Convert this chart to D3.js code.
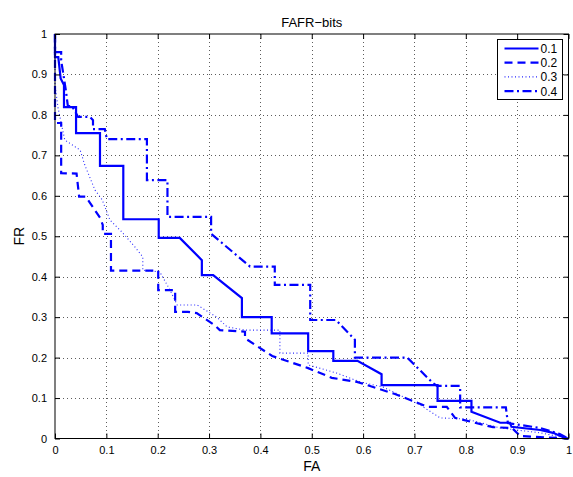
<!DOCTYPE html>
<html>
<head>
<meta charset="utf-8">
<script src="https://cdn.jsdelivr.net/npm/d3@7"></script>
<style>
  html, body { margin: 0; padding: 0; background: #fff; }
  svg { display: block; font-family: "Liberation Sans", Arial, Helvetica, sans-serif; }
</style>
</head>
<body>
<svg id="chart" width="573" height="477"></svg>
<script>
// FA / FR trade-off curves for four bit thresholds
const seriesNames = ["0.1", "0.2", "0.3", "0.4"];

const fa01 = [0, 0, 0.0064, 0.011, 0.0175, 0.0175, 0.041, 0.041, 0.0876, 0.0876, 0.133, 0.133, 0.202, 0.202, 0.243, 0.286, 0.286, 0.308, 0.364, 0.364, 0.422, 0.422, 0.493, 0.493, 0.542, 0.542, 0.589, 0.636, 0.636, 0.745, 0.745, 0.811, 0.811, 0.867, 0.886, 0.889, 0.945, 0.970, 0.995, 1];
const fr01 = [1, 0.943, 0.943, 0.890, 0.874, 0.819, 0.819, 0.755, 0.755, 0.674, 0.674, 0.542, 0.542, 0.496, 0.496, 0.441, 0.404, 0.404, 0.347, 0.300, 0.300, 0.260, 0.260, 0.216, 0.216, 0.192, 0.192, 0.159, 0.132, 0.132, 0.093, 0.093, 0.066, 0.039, 0.039, 0.029, 0.021, 0.014, 0, 0];

const fa02 = [0, 0, 0.012, 0.012, 0.042, 0.047, 0.060, 0.088, 0.093, 0.093, 0.109, 0.109, 0.201, 0.201, 0.234, 0.234, 0.259, 0.276, 0.311, 0.321, 0.370, 0.370, 0.423, 0.493, 0.539, 0.588, 0.662, 0.726, 0.763, 0.779, 0.853, 0.890, 0.906, 1];
const fr02 = [1, 0.780, 0.780, 0.656, 0.655, 0.598, 0.598, 0.545, 0.528, 0.506, 0.506, 0.415, 0.415, 0.367, 0.367, 0.313, 0.313, 0.310, 0.280, 0.268, 0.264, 0.248, 0.204, 0.174, 0.150, 0.140, 0.110, 0.078, 0.078, 0.051, 0.028, 0.026, 0.006, 0];

const fa03 = [0, 0, 0.006, 0.019, 0.049, 0.058, 0.078, 0.092, 0.107, 0.130, 0.156, 0.171, 0.171, 0.204, 0.224, 0.238, 0.277, 0.315, 0.335, 0.370, 0.438, 0.438, 0.493, 0.493, 0.548, 0.594, 0.639, 0.711, 0.750, 0.802, 0.867, 0.945, 1];
const fr03 = [1, 0.874, 0.817, 0.738, 0.713, 0.676, 0.614, 0.590, 0.540, 0.511, 0.473, 0.449, 0.416, 0.412, 0.367, 0.330, 0.330, 0.300, 0.276, 0.268, 0.268, 0.211, 0.211, 0.182, 0.162, 0.140, 0.127, 0.083, 0.051, 0.048, 0.026, 0.014, 0];

const fa04 = [0, 0, 0.012, 0.012, 0.021, 0.025, 0.033, 0.045, 0.068, 0.074, 0.074, 0.097, 0.101, 0.179, 0.179, 0.219, 0.219, 0.304, 0.304, 0.380, 0.428, 0.428, 0.497, 0.497, 0.547, 0.584, 0.584, 0.686, 0.736, 0.744, 0.789, 0.789, 0.878, 0.882, 0.945, 0.983, 1];
const fr04 = [1, 0.955, 0.955, 0.935, 0.862, 0.822, 0.822, 0.795, 0.795, 0.787, 0.765, 0.765, 0.740, 0.740, 0.639, 0.639, 0.548, 0.548, 0.506, 0.425, 0.425, 0.380, 0.380, 0.293, 0.293, 0.244, 0.200, 0.200, 0.137, 0.130, 0.130, 0.077, 0.077, 0.038, 0.026, 0.011, 0];

const xTicks = [0, 0.1, 0.2, 0.3, 0.4, 0.5, 0.6, 0.7, 0.8, 0.9, 1];
const yTicks = [0, 0.1, 0.2, 0.3, 0.4, 0.5, 0.6, 0.7, 0.8, 0.9, 1];
const xTickLabels = ["0", "0.1", "0.2", "0.3", "0.4", "0.5", "0.6", "0.7", "0.8", "0.9", "1"];
const yTickLabels = ["0", "0.1", "0.2", "0.3", "0.4", "0.5", "0.6", "0.7", "0.8", "0.9", "1"];

const titleText = "FAFR\u2212bits";
const xLabel = "FA";
const yLabel = "FR";

// line styles per series
const styles = [
  { width: 2.2, dash: null, opacity: 1 },
  { width: 2.2, dash: "8,5", opacity: 1 },
  { width: 1.1, dash: "1,2.5", opacity: 0.85 },
  { width: 2.2, dash: "9,3.5,2,3.5", opacity: 1 }
];

const seriesData = [
  fa01.map((v, i) => [v, fr01[i]]),
  fa02.map((v, i) => [v, fr02[i]]),
  fa03.map((v, i) => [v, fr03[i]]),
  fa04.map((v, i) => [v, fr04[i]])
];

const svg = d3.select("#chart");
const plot = { left: 55, right: 568.5, top: 34, bottom: 438.5 };

const x = d3.scaleLinear().domain([0, 1]).range([plot.left, plot.right]);
const y = d3.scaleLinear().domain([0, 1]).range([plot.bottom, plot.top]);

// dotted grid
const grid = svg.append("g").attr("stroke", "#333").attr("stroke-width", 0.8)
  .attr("stroke-dasharray", "1,3");
grid.selectAll("line.gx").data(xTicks.slice(1, -1)).enter().append("line")
  .attr("x1", d => Math.round(x(d)) + 0.5).attr("x2", d => Math.round(x(d)) + 0.5)
  .attr("y1", plot.top).attr("y2", plot.bottom);
grid.selectAll("line.gy").data(yTicks.slice(1, -1)).enter().append("line")
  .attr("y1", d => Math.round(y(d)) + 0.5).attr("y2", d => Math.round(y(d)) + 0.5)
  .attr("x1", plot.left).attr("x2", plot.right);

// curves
svg.append("clipPath").attr("id", "plotclip").append("rect")
  .attr("x", plot.left - 2).attr("y", plot.top - 2)
  .attr("width", plot.right - plot.left + 4).attr("height", plot.bottom - plot.top + 4);

const line = d3.line().x(d => x(d[0])).y(d => y(d[1]));
const curves = svg.append("g").attr("clip-path", "url(#plotclip)");
seriesData.forEach((pts, i) => {
  curves.append("path")
    .attr("d", line(pts))
    .attr("fill", "none")
    .attr("stroke", "#0000ff")
    .attr("stroke-width", styles[i].width)
    .attr("stroke-opacity", styles[i].opacity)
    .attr("stroke-dasharray", styles[i].dash)
    .attr("stroke-linejoin", "miter");
});

// axes with inward ticks on all four sides
const tickLen = 5;
const axB = d3.axisBottom(x).tickValues(xTicks).tickSize(-tickLen).tickPadding(8)
  .tickFormat((d, i) => xTickLabels[i]);
const axT = d3.axisTop(x).tickValues(xTicks).tickSize(-tickLen).tickFormat("");
const axL = d3.axisLeft(y).tickValues(yTicks).tickSize(-tickLen).tickPadding(8)
  .tickFormat((d, i) => yTickLabels[i]);
const axR = d3.axisRight(y).tickValues(yTicks).tickSize(-tickLen).tickFormat("");

function styleAxis(g) {
  g.select(".domain").remove();
  g.selectAll("line").attr("stroke", "#000").attr("stroke-width", 1);
  g.selectAll("text").attr("fill", "#000").attr("font-size", 11);
}
svg.append("g").attr("transform", `translate(0,${plot.bottom})`).call(axB).call(styleAxis);
svg.append("g").attr("transform", `translate(0,${plot.top})`).call(axT).call(styleAxis);
svg.append("g").attr("transform", `translate(${plot.left},0)`).call(axL).call(styleAxis);
svg.append("g").attr("transform", `translate(${plot.right},0)`).call(axR).call(styleAxis);

// frame
svg.append("rect")
  .attr("x", plot.left).attr("y", plot.top)
  .attr("width", plot.right - plot.left).attr("height", plot.bottom - plot.top)
  .attr("fill", "none").attr("stroke", "#000").attr("stroke-width", 1);

// title and labels
svg.append("text").attr("x", (plot.left + plot.right) / 2).attr("y", 27)
  .attr("text-anchor", "middle").attr("font-size", 13).text(titleText);
svg.append("text").attr("x", (plot.left + plot.right) / 2).attr("y", 471)
  .attr("text-anchor", "middle").attr("font-size", 14).text(xLabel);
svg.append("text").attr("transform", `translate(24,${(plot.top + plot.bottom) / 2}) rotate(-90)`)
  .attr("text-anchor", "middle").attr("font-size", 14).text(yLabel);

// legend
const lg = svg.append("g").attr("transform", "translate(497.5,39.5)");
lg.append("rect").attr("width", 65).attr("height", 60)
  .attr("fill", "#fff").attr("stroke", "#000").attr("stroke-width", 1);
seriesNames.forEach((name, i) => {
  const ly = 9 + i * 14.2;
  lg.append("line").attr("x1", 7).attr("x2", 41).attr("y1", ly).attr("y2", ly)
    .attr("stroke", "#0000ff").attr("stroke-width", styles[i].width)
    .attr("stroke-opacity", styles[i].opacity)
    .attr("stroke-dasharray", styles[i].dash);
  lg.append("text").attr("x", 43).attr("y", ly + 4.5).attr("font-size", 12).text(name);
});
</script>
</body>
</html>
